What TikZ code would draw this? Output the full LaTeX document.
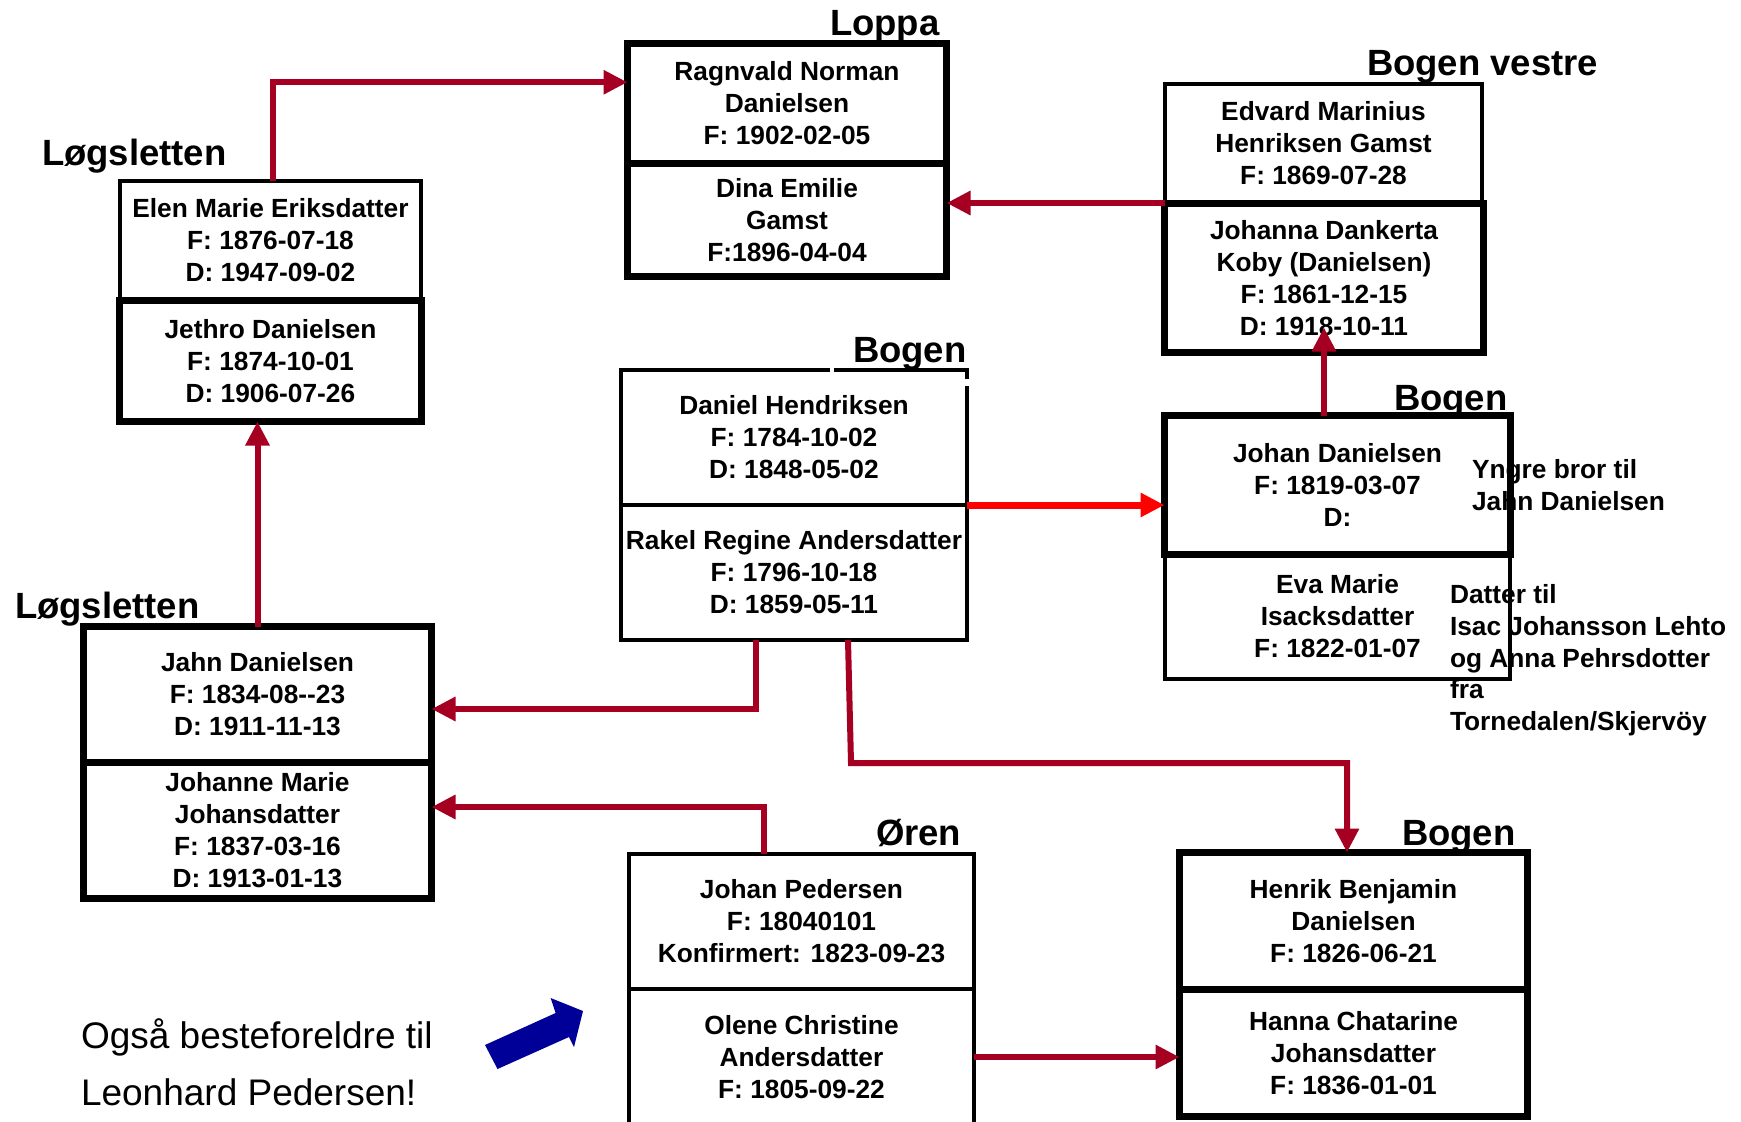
\documentclass[tikz,border=0pt]{standalone}
\usepackage{fontspec}
\setmainfont{Liberation Sans}
\usetikzlibrary{arrows.meta}
\definecolor{darkred}{HTML}{A50021}
\definecolor{brightred}{HTML}{FF0000}
\definecolor{navyblue}{HTML}{000099}
\begin{document}
\begin{tikzpicture}[x=1pt,y=-1pt,
  person/.style={rectangle, draw=black, fill=white, inner sep=0pt, outer sep=0pt, align=center,
    font=\fontsize{26.3}{32}\selectfont\bfseries},
  thinbox/.style={person, line width=3.5pt},
  thickbox/.style={person, line width=7pt},
  place/.style={anchor=base west, inner sep=0pt, outer sep=0pt, font=\fontsize{36.5}{44}\selectfont\bfseries},
  note/.style={anchor=base west, inner sep=0pt, outer sep=0pt, font=\fontsize{26.3}{32}\selectfont\bfseries},
  remark/.style={anchor=base west, inner sep=0pt, outer sep=0pt, font=\fontsize{37}{57}\selectfont},
  conn/.style={draw=darkred, line width=6pt, -{Triangle[length=24pt,width=23pt]}},
  connb/.style={draw=brightred, line width=7pt, -{Triangle[length=24pt,width=23pt]}},
  gap/.style={fill=white, draw=none}
]
\useasboundingbox[fill=white] (0,0) rectangle (1741,1122);

% person boxes
\node[thinbox, minimum width=301pt, minimum height=119pt] (elen) at (270.5,240.5)
  {Elen Marie Eriksdatter\\F: 1876-07-18\\D: 1947-09-02};
\node[thickbox, minimum width=302pt, minimum height=121.5pt] (jethro) at (270.5,360.75)
  {Jethro Danielsen\\F: 1874-10-01\\D: 1906-07-26};

\node[thickbox, minimum width=319pt, minimum height=119.5pt] (ragnvald) at (787,103.25)
  {Ragnvald Norman\\Danielsen\\F: 1902-02-05};
\node[thickbox, minimum width=319pt, minimum height=113.5pt] (dina) at (787,219.75)
  {Dina Emilie\\Gamst\\F:1896-04-04};

\node[thinbox, minimum width=317pt, minimum height=119pt] (edvard) at (1323.5,143.5)
  {Edvard Marinius\\Henriksen Gamst\\F: 1869-07-28};
\node[thickbox, minimum width=319pt, minimum height=149.5pt] (johanna) at (1324,277.75)
  {Johanna Dankerta\\Koby (Danielsen)\\F: 1861-12-15\\D: 1918-10-11};

\node[thinbox, minimum width=346pt, minimum height=135pt] (daniel) at (794,437.5)
  {Daniel Hendriksen\\F: 1784-10-02\\D: 1848-05-02};
\node[thinbox, minimum width=346pt, minimum height=135pt] (rakel) at (794,572.5)
  {Rakel Regine Andersdatter\\F: 1796-10-18\\D: 1859-05-11};

\node[thinbox, minimum width=345pt, minimum height=125pt] (eva) at (1337.5,616.5)
  {Eva Marie\\Isacksdatter\\F: 1822-01-07};
\node[thickbox, minimum width=346pt, minimum height=138.5pt] (johand) at (1337.5,484.75)
  {Johan Danielsen\\F: 1819-03-07\\D:};

\node[thickbox, minimum width=348pt, minimum height=135.5pt] (jahn) at (257.5,694.25)
  {Jahn Danielsen\\F: 1834-08-{}-23\\D: 1911-11-13};
\node[thickbox, minimum width=348pt, minimum height=136.5pt] (johanne) at (257.5,830.25)
  {Johanne Marie\\Johansdatter\\F: 1837-03-16\\D: 1913-01-13};

\node[thinbox, minimum width=345pt, minimum height=135pt] (jp) at (801.5,921.5)
  {Johan Pedersen\\F: 18040101\\Konfirmert: 1823-09-23};
\node[thinbox, minimum width=345pt, minimum height=136pt] (olene) at (801.5,1057)
  {Olene Christine\\Andersdatter\\F: 1805-09-22};

\node[thickbox, minimum width=348pt, minimum height=136.5pt] (henrik) at (1353.5,920.75)
  {Henrik Benjamin\\Danielsen\\F: 1826-06-21};
\node[thickbox, minimum width=348pt, minimum height=127.5pt] (hanna) at (1353.5,1052.75)
  {Hanna Chatarine\\Johansdatter\\F: 1836-01-01};

% small gaps in the border of Daniel's box
\fill[gap] (829.5,365) rectangle (834,374);
\fill[gap] (963,379) rectangle (972,386);

% place labels
\node[place] (lbl1) at (42,165) {Løgsletten};
\node[place] (lbl2) at (830,35) {Loppa};
\node[place] (lbl3) at (1367,75) {Bogen vestre};
\node[place] (lbl4) at (853,362) {Bogen};
\node[place] (lbl5) at (1394,410) {Bogen};
\node[place] (lbl6) at (15,618) {Løgsletten};
\node[place] (lbl7) at (876,845) {Øren};
\node[place] (lbl8) at (1402,845) {Bogen};

% notes
\node[note] (n1a) at (1472,478) {Yngre bror til};
\node[note] (n1b) at (1472,510) {Jahn Danielsen};
\node[note] (n2a) at (1450,603) {Datter til};
\node[note] (n2b) at (1450,635) {Isac Johansson Lehto};
\node[note] (n2c) at (1450,667) {og Anna Pehrsdotter};
\node[note] (n2d) at (1450,698) {fra};
\node[note] (n2e) at (1450,730) {Tornedalen/Skjervöy};

\node[remark] (r1) at (81,1048) {Også besteforeldre til};
\node[remark] (r2) at (81,1105) {Leonhard Pedersen!};

% blue block arrow
\fill[navyblue] (485,1045) -- (555.6,1013) -- (550.6,998) -- (583,1011) -- (574,1047)
  -- (569,1037) -- (497.5,1069) -- cycle;

% connectors
\draw[conn] ([xshift=2.5pt]elen.north) |- ([yshift=21pt]ragnvald.west);
\draw[conn] (edvard.south west) -- (dina.east |- edvard.south west);
\draw[conn] (johanna.south |- johand.north) -- ([yshift=25pt]johanna.south);
\draw[conn] (jahn.north) -- (jahn.north |- jethro.south);
\draw[conn] ([xshift=-38pt]rakel.south) |- ([yshift=-14.75pt]jahn.east);
\draw[conn] ([xshift=54pt]rakel.south) -- ++(3,123) -| ([xshift=-6.5pt]henrik.north);
\draw[conn] ([xshift=-37.5pt]jp.north) |- ([yshift=23.25pt]johanne.east);
\draw[conn] (olene.east) -- (olene.east -| hanna.west);
\draw[connb] (daniel.south east) -- (daniel.south east -| johand.west);
\end{tikzpicture}
\end{document}
